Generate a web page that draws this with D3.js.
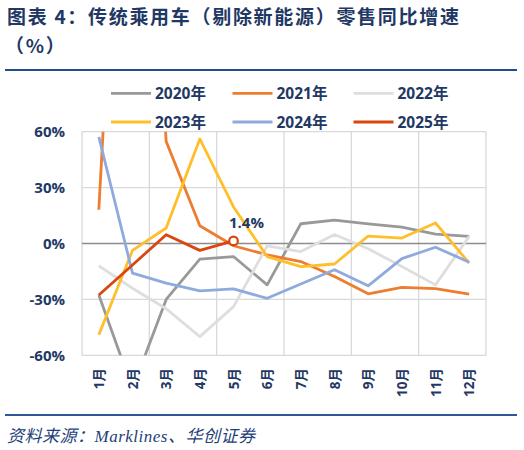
<!DOCTYPE html>
<html><head><meta charset="utf-8">
<script src="https://cdn.jsdelivr.net/npm/d3@7/dist/d3.min.js"></script>
<style>
body{margin:0;background:#fff;}
svg{display:block;}
</style></head>
<body><svg id="c" width="524" height="450"></svg>
<script>
const months = ["1月","2月","3月","4月","5月","6月","7月","8月","9月","10月","11月","12月"];
const yearNames = ["2020年","2021年","2022年","2023年","2024年","2025年"];
const s2020 = [-27.6, -78, -30.0, -8.4, -7.0, -22.2, 10.6, 12.5, 10.5, 8.8, 5.0, 3.8];
const s2021 = [18.1, 350, 54.8, 9.5, -1.2, -6.1, -9.7, -17.7, -27.0, -23.6, -24.2, -27.2];
const s2022 = [-12.0, -24.0, -35.0, -50.0, -33.9, -1.3, -4.3, 4.8, -2.8, -12.4, -22.2, 3.8];
const s2023 = [-49.0, -3.7, 8.3, 56.1, 19.6, -7.0, -12.4, -11.0, 4.0, 2.9, 11.0, -10.5];
const s2024 = [57.2, -15.9, -21.3, -25.4, -24.4, -29.4, -21.7, -14.1, -22.7, -8.1, -2.0, -10.0];
const s2025 = [-27.6, -11.5, 4.7, -3.7, 1.4];
const yTicks = [-60, -30, 0, 30, 60];
const colors = ["#999999", "#ED7D31", "#DEDEDE", "#FFBF2B", "#8FAADC", "#D9470E"];
const seriesList = [s2020, s2021, s2022, s2023, s2024, s2025];
const labelValue = 1.4;

const navy = "#1F3864";
const svg = d3.select("#c");
const L = 82, R = 486, T = 131.7, B = 355.3;
const x = d3.scaleBand().domain(months).range([L, R]);
const y = d3.scaleLinear().domain([-60, 60]).range([B, T]);
const cx = m => x(m) + x.bandwidth() / 2;

// title
svg.append("text").attr("x", 7).attr("y", 24).attr("fill", navy)
  .style("font-family", "'Noto Sans CJK SC'").style("font-weight", 700).style("font-size", "19px")
  .style("letter-spacing", "1.7px")
  .text("图表 4：传统乘用车（剔除新能源）零售同比增速");
svg.append("text").attr("x", 5).attr("y", 53).attr("fill", navy)
  .style("font-family", "'Noto Sans CJK SC'").style("font-weight", 700).style("font-size", "19px")
  .style("letter-spacing", "1.7px")
  .text("（%）");
svg.append("line").attr("x1", 5).attr("x2", 517).attr("y1", 70).attr("y2", 70)
  .attr("stroke", "#1F4E8C").attr("stroke-width", 2);
svg.append("line").attr("x1", 5).attr("x2", 517).attr("y1", 415).attr("y2", 415)
  .attr("stroke", "#2F5597").attr("stroke-width", 2);
svg.append("text").attr("x", 7).attr("y", 442).attr("fill", "#1F3F7A")
  .style("font-family", "'Liberation Serif','Noto Sans CJK SC'").style("font-style", "italic").style("font-size", "17px")
  .style("letter-spacing", "0.5px")
  .text("资料来源：Marklines、华创证券");

// grid
const g = svg.append("g");
g.selectAll("line.h").data(yTicks.filter(d => d !== 0)).join("line")
  .attr("x1", L).attr("x2", R).attr("y1", d => y(d)).attr("y2", d => y(d))
  .attr("stroke", "#D9D9D9").attr("stroke-width", 1.3);
const vIdx = [0, 2, 4, 6, 8, 10];
g.selectAll("line.v").data(vIdx).join("line")
  .attr("x1", i => x(months[i])).attr("x2", i => x(months[i]))
  .attr("y1", T).attr("y2", B).attr("stroke", "#D9D9D9").attr("stroke-width", 1.3);
g.append("line").attr("x1", R).attr("x2", R).attr("y1", T).attr("y2", B)
  .attr("stroke", "#D9D9D9").attr("stroke-width", 1.3);
g.append("line").attr("x1", L).attr("x2", R).attr("y1", y(0)).attr("y2", y(0))
  .attr("stroke", "#8C8C8C").attr("stroke-width", 1.3);

// y labels
svg.selectAll("text.yl").data(yTicks).join("text")
  .attr("x", 65).attr("y", d => y(d)).attr("dy", "0.36em").attr("text-anchor", "end")
  .attr("fill", navy).style("font-family", "'Open Sans','Noto Sans CJK SC'").style("font-weight", 700)
  .style("font-size", "15px").text(d => d + "%");

// x labels
svg.selectAll("text.xl").data(months).join("text")
  .attr("transform", d => `translate(${cx(d) + 5},368) rotate(-90)`)
  .attr("text-anchor", "end")
  .attr("fill", navy).style("font-family", "'Open Sans','Noto Sans CJK SC'").style("font-weight", 700)
  .style("font-size", "13.5px").text(d => d);

// clip
svg.append("clipPath").attr("id", "clip").append("rect")
  .attr("x", L).attr("y", T).attr("width", R - L).attr("height", B - T);

const line = d3.line().x((d, i) => cx(months[i])).y(d => y(d));
const lg = svg.append("g").attr("clip-path", "url(#clip)");
seriesList.forEach((s, k) => {
  lg.append("path").datum(s).attr("d", line).attr("fill", "none")
    .attr("stroke", colors[k]).attr("stroke-width", 2.8).attr("stroke-linejoin", "round");
});

// marker + label
const last = s2025.length - 1;
svg.append("circle").attr("cx", cx(months[last])).attr("cy", y(s2025[last])).attr("r", 4.3)
  .attr("fill", "#fff").attr("stroke", colors[5]).attr("stroke-width", 2.2);
svg.append("text").attr("x", cx(months[last]) + 13).attr("y", 228).attr("text-anchor", "middle")
  .attr("fill", navy).style("font-family", "'Open Sans'").style("font-weight", 700).style("font-size", "15px")
  .text(labelValue + "%");

// legend
const lx = [111, 232.5, 353.5], ly = [93.3, 122];
yearNames.forEach((nm, k) => {
  const gx = lx[k % 3], gy = ly[Math.floor(k / 3)];
  svg.append("line").attr("x1", gx).attr("x2", gx + 40).attr("y1", gy).attr("y2", gy)
    .attr("stroke", colors[k]).attr("stroke-width", 2.8);
  svg.append("text").attr("x", gx + 44).attr("y", gy).attr("dy", "0.36em").attr("fill", navy)
    .style("font-family", "'Open Sans','Noto Sans CJK SC'").style("font-weight", 700).style("font-size", "15.5px")
    .text(nm);
});
</script></body></html>
